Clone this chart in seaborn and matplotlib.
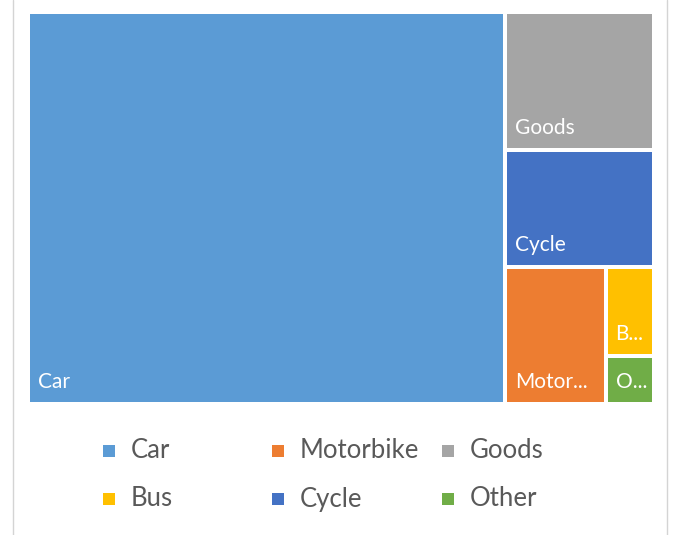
import matplotlib
matplotlib.use("Agg")
import matplotlib.pyplot as plt
from matplotlib.patches import Rectangle
import seaborn as sns

# share of traffic by vehicle type
categories = ["Car", "Motorbike", "Goods", "Bus", "Cycle", "Other"]
values = [76.2, 5.6, 8.4, 1.75, 7.1, 0.95]
tile_labels = ["Car", "Motor...", "Goods", "B...", "Cycle", "O..."]
colors = ["#5B9BD5", "#ED7D31", "#A5A5A5", "#FFC000", "#4472C4", "#70AD47"]

sns.set_theme(style="white")
plt.rcParams["font.family"] = ["Lato", "DejaVu Sans"]


def worst(row, side):
    s = sum(row)
    return max(max(side * side * r / (s * s), s * s / (side * side * r)) for r in row)


def squarify(vals, x, y, w, h):
    total = sum(vals)
    areas = [v * w * h / total for v in vals]
    rects = []
    while areas:
        side = min(w, h)
        row = [areas[0]]
        i = 1
        while i < len(areas) and worst(row + [areas[i]], side) <= worst(row, side):
            row.append(areas[i])
            i += 1
        s = sum(row)
        if w >= h:
            cw = s / h
            cy = y
            for a in row:
                rects.append((x, cy, cw, a / cw))
                cy += a / cw
            x += cw
            w -= cw
        else:
            rh = s / w
            cx = x
            for a in row:
                rects.append((cx, y, a / rh, rh))
                cx += a / rh
            y += rh
            h -= rh
        areas = areas[i:]
    return rects


fig = plt.figure(figsize=(6.78, 5.35), dpi=100)
ax = fig.add_axes([0, 0, 1, 1])
ax.set_xlim(0, 678)
ax.set_ylim(535, 0)
ax.axis("off")

# chart frame
ax.plot([13, 13], [0, 535], color="#D4D4D4", lw=1)
ax.plot([667, 667], [0, 535], color="#D4D4D4", lw=1)

order = sorted(range(len(values)), key=lambda k: -values[k])
rects = squarify([values[k] for k in order], 28, 12, 626, 392)
gap = 2
for k, (x, y, w, h) in zip(order, rects):
    ax.add_patch(Rectangle((x + gap, y + gap), w - 2 * gap, h - 2 * gap,
                           facecolor=colors[k], edgecolor="none"))
    ax.text(x + gap + 8, y + h - gap - 14, tile_labels[k], color="white",
            fontsize=15, va="baseline", ha="left")

# legend, 3 columns x 2 rows
col_x = [103, 272, 442]
row_y = [451, 499]
for i, (name, c) in enumerate(zip(categories, colors)):
    cx = col_x[i % 3]
    cy = row_y[i // 3]
    ax.add_patch(Rectangle((cx, cy - 6), 12, 12, facecolor=c, edgecolor="none"))
    ax.text(cx + 28, cy, name, color="#595959", fontsize=18.5,
            va="center", ha="left")

fig.savefig("out.png", dpi=100)
